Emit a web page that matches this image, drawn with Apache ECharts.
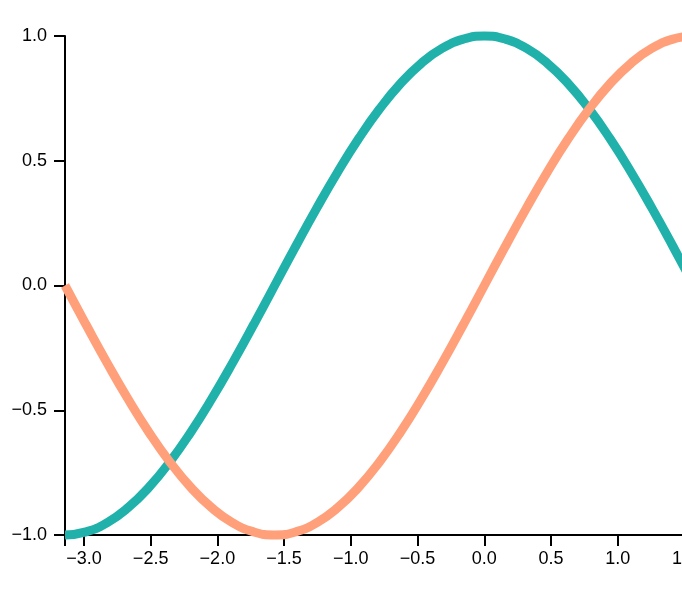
<!DOCTYPE html>
<html>
<head>
<meta charset="utf-8">
<style>
  html, body { margin: 0; padding: 0; background: #fff; }
  #chart { width: 682px; height: 612px; }
</style>
<script src="https://cdn.jsdelivr.net/npm/echarts@6/dist/echarts.min.js"></script>
</head>
<body>
<div id="chart"></div>
<script>
// sample points
const xs = [-3.1416, -2.9845, -2.8274, -2.6704, -2.5133, -2.3562, -2.1991, -2.0420, -1.8850, -1.7279,
  -1.5708, -1.4137, -1.2566, -1.0996, -0.9425, -0.7854, -0.6283, -0.4712, -0.3142, -0.1571,
  0, 0.1571, 0.3142, 0.4712, 0.6283, 0.7854, 0.9425, 1.0996, 1.2566, 1.4137, 1.5708]
const tealValues = [-1, -0.9877, -0.9511, -0.8910, -0.8090, -0.7071, -0.5878, -0.4540, -0.3090, -0.1564,
  0, 0.1564, 0.3090, 0.4540, 0.5878, 0.7071, 0.8090, 0.8910, 0.9511, 0.9877,
  1, 0.9877, 0.9511, 0.8910, 0.8090, 0.7071, 0.5878, 0.4540, 0.3090, 0.1564, 0]
const salmonValues = [0, -0.1564, -0.3090, -0.4540, -0.5878, -0.7071, -0.8090, -0.8910, -0.9511, -0.9877,
  -1, -0.9877, -0.9511, -0.8910, -0.8090, -0.7071, -0.5878, -0.4540, -0.3090, -0.1564,
  0, 0.1564, 0.3090, 0.4540, 0.5878, 0.7071, 0.8090, 0.8910, 0.9511, 0.9877, 1]
const xTicks = [-3, -2.5, -2, -1.5, -1, -0.5, 0, 0.5, 1, 1.5]
const xMin = -3.1416
const xMax = 1.5708

const fmt = (v) => {
	const s = Math.abs(v).toFixed(1)
	return v < 0 ? "\u2212" + s : s
}

const chart = echarts.init(document.getElementById("chart"))

const lineBlack = { color: "#000", width: 2 }
const labelFont = {
	color: "#000",
	fontSize: 18,
	fontFamily: "Liberation Sans, Arial, sans-serif",
}

chart.setOption({
	animation: false,
	grid: {
		top: 36,
		bottom: 77,
		left: 65,
		right: -12,
		containLabel: false,
		outerBoundsMode: "none",
	},
	xAxis: {
		type: "value",
		min: xMin,
		max: xMax,
		splitLine: { show: false },
		axisLine: { show: true, onZero: false, lineStyle: lineBlack },
		axisTick: {
			show: true,
			length: 11,
			lineStyle: lineBlack,
			customValues: [xMin].concat(xTicks),
		},
		axisLabel: {
			...labelFont,
			customValues: xTicks,
			formatter: fmt,
			margin: 15,
		},
	},
	yAxis: {
		type: "value",
		min: -1,
		max: 1,
		interval: 0.5,
		splitLine: { show: false },
		axisLine: { show: true, onZero: false, lineStyle: lineBlack },
		axisTick: { show: true, length: 11, lineStyle: lineBlack },
		axisLabel: {
			...labelFont,
			formatter: fmt,
			margin: 18,
		},
	},
	series: [
		{
			name: "cos",
			type: "line",
			smooth: true,
			showSymbol: false,
			clip: false,
			data: xs.map((x, i) => [x, tealValues[i]]),
			lineStyle: { color: "#20b2aa", width: 9, cap: "butt" },
		},
		{
			name: "sin",
			type: "line",
			smooth: true,
			showSymbol: false,
			clip: false,
			data: xs.map((x, i) => [x, salmonValues[i]]),
			lineStyle: { color: "#ffa07a", width: 9, cap: "butt" },
		},
	],
})
</script>
</body>
</html>
